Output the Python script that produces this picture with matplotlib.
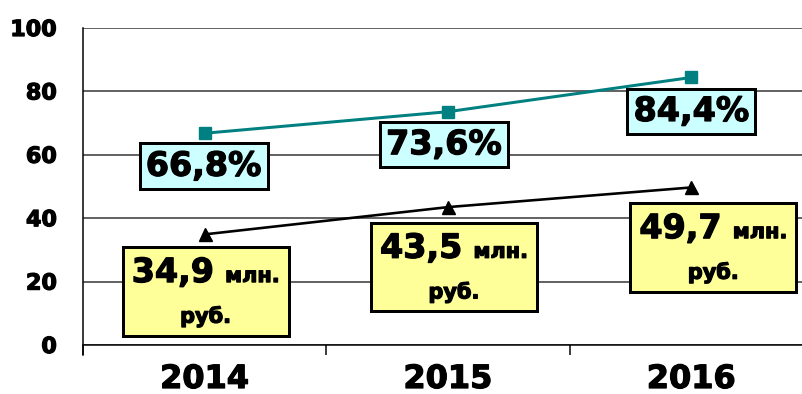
import matplotlib
matplotlib.use("Agg")
import matplotlib.pyplot as plt
import matplotlib.patheffects as pe
from matplotlib.offsetbox import AnnotationBbox, TextArea, HPacker, VPacker
from matplotlib.ticker import FixedLocator

# --- Dane ---
years = ["2014", "2015", "2016"]
share_pct = [66.8, 73.6, 84.4]          # udział, %
amount_mln = [34.9, 43.5, 49.7]         # млн. руб.
share_labels = ["66,8%", "73,6%", "84,4%"]
amount_labels = ["34,9", "43,5", "49,7"]
y_ticks = [0, 20, 40, 60, 80, 100]

# przesunięcia etykiet względem punktów (w pikselach)
share_offsets = [(-1, -33), (-4, -33), (0, -34)]
amount_offsets = [(1, -57), (6, -60), (22, -60)]

PX = 72 / 100  # piksel -> punkt przy dpi=100
heavy = [pe.withStroke(linewidth=0.9, foreground="black")]

fig = plt.figure(figsize=(8.03, 3.94), dpi=100)
ax = fig.add_axes([83 / 803, 49 / 394, 730 / 803, 317 / 394])

x = list(range(len(years)))
ax.plot(x, share_pct, color="#008080", lw=3 * PX, marker="s", ms=12 * PX,
        zorder=3, clip_on=False)
ax.plot(x, amount_mln, color="black", lw=2.6 * PX, marker="^", ms=13 * PX,
        zorder=3, clip_on=False)

ax.set_xlim(-0.5, 2.5)
ax.set_ylim(0, 100)
ax.set_yticks(y_ticks)
ax.set_yticklabels([str(v) for v in y_ticks], fontsize=16, fontweight="bold")
ax.set_xticks(x)
ax.set_xticklabels(years, fontsize=23, fontweight="bold")
for t in ax.get_xticklabels() + ax.get_yticklabels():
    t.set_path_effects(heavy)
ax.xaxis.set_minor_locator(FixedLocator([-0.5, 0.5, 1.5, 2.5]))
ax.tick_params(axis="x", which="major", length=0, pad=19 * PX)
ax.tick_params(axis="x", which="minor", length=10 * PX, width=1.5 * PX, direction="out")
ax.tick_params(axis="y", length=0, pad=26 * PX)

ax.grid(axis="y", color="#333333", lw=1.5 * PX)
ax.set_axisbelow(True)
for side in ("top", "right"):
    ax.spines[side].set_visible(False)
for side in ("left", "bottom"):
    ax.spines[side].set_linewidth(1.5 * PX)
ax.spines["left"].set_bounds(-3, 100)

# etykiety udziału (%)
for xi, yi, lab, (dx, dy) in zip(x, share_pct, share_labels, share_offsets):
    ta = TextArea(lab, textprops=dict(fontsize=24, fontweight="bold",
                                      path_effects=heavy))
    ab = AnnotationBbox(ta, (xi, yi), xybox=(dx * PX, dy * PX),
                        boxcoords="offset points", box_alignment=(0.5, 0.5),
                        pad=0.45, frameon=True,
                        bboxprops=dict(facecolor="#CCFFFF", edgecolor="black",
                                       lw=3 * PX))
    ax.add_artist(ab)

# etykiety kwot (млн. руб.)
for xi, yi, lab, (dx, dy) in zip(x, amount_mln, amount_labels, amount_offsets):
    big = TextArea(lab, textprops=dict(fontsize=24, fontweight="bold",
                                       path_effects=heavy))
    small = TextArea("млн.", textprops=dict(fontsize=15, fontweight="bold",
                                            path_effects=heavy))
    line1 = HPacker(children=[big, small], align="baseline", pad=0, sep=8)
    line2 = TextArea("руб.", textprops=dict(fontsize=15, fontweight="bold",
                                            path_effects=heavy))
    box = VPacker(children=[line1, line2], align="center", pad=0, sep=12)
    ab = AnnotationBbox(box, (xi, yi), xybox=(dx * PX, dy * PX),
                        boxcoords="offset points", box_alignment=(0.5, 0.5),
                        pad=0.65, frameon=True,
                        bboxprops=dict(facecolor="#FFFF99", edgecolor="black",
                                       lw=3 * PX))
    ax.add_artist(ab)

fig.savefig("out.png", dpi=100)
